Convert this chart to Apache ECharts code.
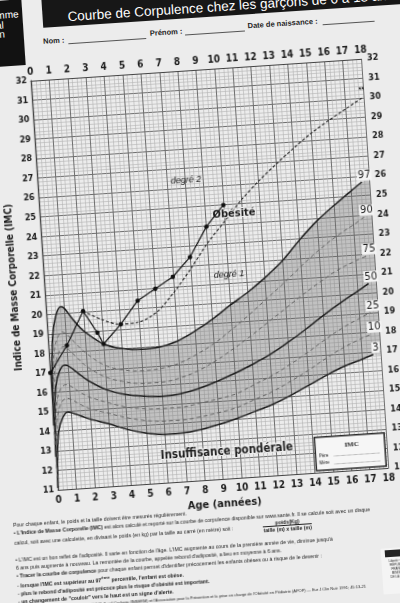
<!DOCTYPE html>
<html>
<head>
<meta charset="utf-8">
<script src="https://cdn.jsdelivr.net/npm/echarts@6/dist/echarts.min.js"></script>
<style>
  html, body { margin: 0; padding: 0; width: 400px; height: 603px; overflow: hidden; background: #ececec; }
  #sheet {
    position: absolute; left: 0; top: 0; width: 400px; height: 603px;
    transform-origin: 200px 275px; transform: rotate(-3.8deg);
    font-family: 'Liberation Sans', Arial, sans-serif; color: #1e1e1e;
  }
  #chart { position: absolute; left: 0; top: 0; width: 400px; height: 603px; }
  .logo { position: absolute; left: -60px; top: -12px; width: 100px; height: 66px; background: #121212; }
  .logo div { position: absolute; left: 44px; color: #fff; font-size: 10px; line-height: 10px; }
  .titlebar { position: absolute; left: 60px; top: -18px; width: 380px; height: 36px; background: #171717; }
  .titlebar span { position: absolute; left: 25px; top: 19px; color: #fff; font-size: 13.5px; line-height: 15px; white-space: nowrap; }
  .form { position: absolute; font-size: 7.5px; font-weight: bold; white-space: nowrap; }
  .rule { position: absolute; height: 0; border-top: 0.8px solid #555; }
  .notes { position: absolute; left: -3px; top: 508px; width: 410px; font-size: 5.2px; line-height: 8px; white-space: nowrap; }
  .notes .gap { margin-top: 6px; }
  .frac { display: inline-block; vertical-align: middle; text-align: center; font-weight: bold; margin-left: 30px; line-height: 6px; }
  .frac span { display: block; }
  .frac span + span { border-top: 0.6px solid #222; }
  .credit { font-size: 4px; }
  .seal { position: absolute; left: 362px; top: 560px; width: 36px; height: 46px; background: #f4f4f4; font-size: 3px; line-height: 4px; text-align: center; }
  .seal .mark { height: 7px; margin: 2px 4px; background: #222; }
</style>
</head>
<body>
<div id="sheet">
  <div class="logo">
    <div style="top:10px">Programme</div>
    <div style="top:19.5px">National</div>
    <div style="top:29px">Nutrition</div>
  </div>
  <div class="titlebar"><span>Courbe de Corpulence chez les garçons de 0 à 18 ans</span></div>

  <div class="form" style="left:59px; top:27px">Nom :</div>
  <div class="rule" style="left:84px; top:35px; width:78px"></div>
  <div class="form" style="left:166px; top:26px">Prénom :</div>
  <div class="rule" style="left:201px; top:34px; width:60px"></div>
  <div class="form" style="left:264px; top:25px">Date de naissance :</div>
  <div class="rule" style="left:339px; top:33px; width:52px"></div>

  <div id="chart"></div>

  <div class="notes">
    <div>Pour chaque enfant, le poids et la taille doivent être mesurés régulièrement.</div>
    <div>• <b>L'Indice de Masse Corporelle (IMC)</b> est alors calculé et reporté sur la courbe de corpulence disponible sur www.sante.fr. Il se calcule soit avec un disque</div>
    <div>calcul, soit avec une calculette, en divisant le poids (en kg) par la taille au carré (en mètre) soit :<span class="frac"><span>poids(Kg)</span><span>taille (m) x taille (m)</span></span></div>
    <div class="gap">• L'IMC est un bon reflet de l'adiposité. Il varie en fonction de l'âge. L'IMC augmente au cours de la première année de vie, diminue jusqu'à</div>
    <div>6 ans puis augmente à nouveau. La remontée de la courbe, appelée rebond d'adiposité, a lieu en moyenne à 6 ans.</div>
    <div>• <b>Tracer la courbe de corpulence</b> pour chaque enfant permet d'identifier précocement les enfants obèses ou à risque de le devenir :</div>
    <div><b>- lorsque l'IMC est supérieur au 97<sup>ème</sup> percentile, l'enfant est obèse.</b></div>
    <div><b>- plus le rebond d'adiposité est précoce plus le risque d'obésité est important.</b></div>
    <div><b>- un changement de "couloir" vers le haut est un signe d'alerte.</b></div>
    <div class="credit">Courbes réalisées en collaboration avec M.F Rolland-Cachera (INSERM) et l'Association pour la Prévention et la prise en charge de l'Obésité en Pédiatrie (APOP) — Eur J Clin Nutr 1991; 45:13-21</div>
  </div>
  <div class="seal"><div class="mark"></div>Liberté • Égalité<br>RÉPUBLIQUE<br>FRANÇAISE<br>MINISTÈRE<br>DE LA SANTÉ</div>
</div>

<script>
// percentile curves (age in years -> IMC)
const ages = [0, 0.1, 0.25, 0.5, 0.8, 1, 1.5, 2, 3, 4, 5, 6, 7, 8, 9, 10, 11, 12, 13, 14, 15, 16, 17, 17.6]
const p3  = [11.1, 12.8, 14.0, 14.65, 14.95, 14.9, 14.7, 14.5, 14.2, 13.85, 13.6, 13.47, 13.48, 13.6, 13.8, 14.05, 14.35, 14.65, 15.05, 15.5, 15.95, 16.35, 16.65, 16.85]
const p10 = [11.6, 13.5, 14.8, 15.45, 15.65, 15.6, 15.3, 15.05, 14.75, 14.45, 14.25, 14.15, 14.15, 14.25, 14.4, 14.6, 14.95, 15.3, 15.75, 16.25, 16.8, 17.3, 17.7, 17.9]
const p25 = [12.1, 14.2, 15.5, 16.15, 16.35, 16.3, 15.95, 15.65, 15.3, 15.0, 14.85, 14.8, 14.8, 14.95, 15.1, 15.3, 15.7, 16.1, 16.6, 17.15, 17.75, 18.3, 18.75, 19.0]
const p50 = [12.7, 14.9, 16.3, 17.05, 17.35, 17.3, 16.9, 16.5, 15.95, 15.65, 15.5, 15.43, 15.5, 15.7, 16.0, 16.35, 16.75, 17.2, 17.75, 18.35, 19.0, 19.6, 20.15, 20.5]
const p75 = [13.3, 15.6, 17.1, 17.95, 18.3, 18.2, 17.7, 17.2, 16.6, 16.3, 16.15, 16.15, 16.3, 16.6, 17.05, 17.6, 18.2, 18.85, 19.5, 20.15, 20.75, 21.3, 21.7, 21.9]
const p90 = [13.8, 16.3, 17.9, 18.75, 19.05, 18.95, 18.4, 17.9, 17.2, 16.9, 16.8, 16.85, 17.05, 17.45, 17.95, 18.6, 19.3, 20.05, 20.8, 21.6, 22.35, 23.0, 23.55, 23.9]
const p97 = [14.3, 17.0, 18.8, 19.9, 20.35, 20.25, 19.55, 19.0, 18.3, 18.0, 17.9, 17.95, 18.2, 18.65, 19.2, 19.85, 20.45, 21.15, 21.95, 22.95, 23.85, 24.6, 25.3, 25.7]

// obesity threshold (dashed, degré 1 / degré 2)
const seuilAges = [2, 3, 4, 5, 6, 7, 8, 9, 10, 11, 12, 13, 14, 15, 16, 17, 18]
const seuilImc  = [20.05, 19.55, 19.25, 19.3, 19.75, 20.7, 21.85, 23.1, 24.15, 25.2, 26.1, 26.9, 27.65, 28.35, 28.95, 29.5, 30.05]

// child's plotted measurements
const enfantAges = [0, 1, 2, 2.7, 3, 4, 5, 6, 7, 8, 9, 10]
const enfantImc  = [17.0, 18.35, 20.05, 18.9, 18.3, 19.25, 20.4, 20.95, 21.5, 22.45, 23.95, 25.0]

const narrow = "'Liberation Sans Narrow', 'DejaVu Sans Condensed', sans-serif"
const ink = '#1c1c1c'

// texts written on the grid
const annotations = [
  { text: 'degré 2', at: [8.06, 26.4], style: { fontStyle: 'italic', fontSize: 9 } },
  { text: 'Obésité', at: [10.55, 24.5], style: { fontWeight: 'bold', fontSize: 11, fontFamily: narrow, textBorderColor: '#efefef', textBorderWidth: 2 } },
  { text: 'degré 1', at: [10.06, 21.42], style: { fontStyle: 'italic', fontSize: 9 } },
  { text: 'Insuffisance pondérale', at: [9.3, 12.4], style: { fontWeight: 'bold', fontSize: 11.5, fontFamily: narrow, textBorderColor: '#efefef', textBorderWidth: 2 } },
  { text: 'IMC', at: [16.1, 12.3], style: { fontWeight: 'bold', fontSize: 7, fontFamily: 'Liberation Serif' } },
  { text: 'Père', at: [14.55, 11.85], style: { fontSize: 4.5 } },
  { text: 'Mère', at: [14.55, 11.45], style: { fontSize: 4.5 } },
  { text: '**', at: [17.9, 30.4], style: { fontWeight: 'bold', fontSize: 7 } }
]

const chart = echarts.init(document.getElementById('chart'))

function pairs(xs, ys) {
  return xs.map(function (x, i) { return [x, ys[i]] })
}

function percentile(name, values, dashed) {
  return {
    name: name, type: 'line', data: pairs(ages, values),
    showSymbol: false, smooth: 0.35, z: 3, silent: true,
    lineStyle: dashed
      ? { color: '#5c5c5c', width: 0.9, type: [4, 3] }
      : { color: ink, width: 1.5 },
    markPoint: {
      symbol: 'circle', symbolSize: 1, silent: true,
      itemStyle: { color: 'rgba(0,0,0,0)' },
      label: {
        show: true, position: 'inside', formatter: name,
        fontSize: 11, fontFamily: narrow, color: ink,
        backgroundColor: '#f4f4f4', padding: [0, 1]
      },
      data: [{ coord: [17.75, values[values.length - 1] + 0.35] }]
    }
  }
}

// grey band between 3rd and 97th, carried flat to 18 ans
const bandAges = ages.concat([18])
const bandLow = p3.concat([p3[p3.length - 1]])
const bandHigh = p97.concat([p97[p97.length - 1]])

function renderBand(params, api) {
  const top = bandAges.map(function (a, i) { return api.coord([a, bandHigh[i]]) })
  const bottom = bandAges.map(function (a, i) { return api.coord([a, bandLow[i]]) }).reverse()
  return {
    type: 'polygon',
    shape: { points: top.concat(bottom), smooth: 0.3 },
    style: { fill: 'rgba(105,105,105,0.33)', stroke: 'none' }
  }
}

const axisText = { color: ink, fontFamily: narrow, fontWeight: 'bold' }

chart.setOption({
  animation: false,
  grid: { left: 25, right: 25, top: 70, bottom: 123 },
  xAxis: [
    {
      type: 'value', min: 0, max: 18, interval: 1, position: 'bottom',
      name: 'Age (années)', nameLocation: 'middle', nameGap: 17,
      nameTextStyle: { color: ink, fontWeight: 'bold', fontSize: 11, fontFamily: narrow },
      axisLine: { show: true, lineStyle: { color: '#444', width: 1.2 } },
      axisTick: { show: false },
      axisLabel: Object.assign({ fontSize: 10, margin: 5 }, axisText),
      splitLine: { show: true, lineStyle: { color: '#6e6e6e', width: 1 } },
      minorTick: { show: false, splitNumber: 4 },
      minorSplitLine: { show: true, lineStyle: { color: '#b2b2b2', width: 0.6 } }
    },
    {
      type: 'value', min: 0, max: 18, interval: 1, position: 'top',
      axisLine: { show: true, lineStyle: { color: '#444', width: 1.2 } },
      axisTick: { show: false },
      axisLabel: Object.assign({ fontSize: 10, margin: 4 }, axisText),
      splitLine: { show: false }
    }
  ],
  yAxis: [
    {
      type: 'value', min: 11, max: 32, interval: 1, position: 'left',
      name: 'Indice de Masse Corporelle (IMC)', nameLocation: 'middle', nameGap: 16, nameRotate: 90,
      nameTextStyle: { color: ink, fontWeight: 'bold', fontSize: 10, fontFamily: narrow },
      axisLine: { show: true, lineStyle: { color: '#444', width: 1.2 } },
      axisTick: { show: false },
      axisLabel: Object.assign({ fontSize: 9, margin: 4 }, axisText),
      splitLine: { show: true, lineStyle: { color: '#6e6e6e', width: 1 } },
      minorTick: { show: false, splitNumber: 5 },
      minorSplitLine: { show: true, lineStyle: { color: '#b2b2b2', width: 0.6 } }
    },
    {
      type: 'value', min: 11, max: 32, interval: 1, position: 'right',
      axisLine: { show: true, lineStyle: { color: '#444', width: 1.2 } },
      axisTick: { show: false },
      axisLabel: Object.assign({ fontSize: 9, margin: 6 }, axisText),
      splitLine: { show: false }
    }
  ],
  series: [
    {
      name: 'bande', type: 'custom', silent: true, z: 1, clip: true,
      data: [[0, 11]],
      renderItem: renderBand
    },
    percentile('3', p3, false),
    percentile('10', p10, true),
    percentile('25', p25, true),
    percentile('50', p50, false),
    percentile('75', p75, true),
    percentile('90', p90, true),
    percentile('97', p97, false),
    {
      name: 'seuil', type: 'line', data: pairs(seuilAges, seuilImc),
      showSymbol: false, smooth: 0.3, z: 4, silent: true,
      lineStyle: { color: '#222', width: 1.1, type: [3, 2] },
      markArea: {
        silent: true,
        itemStyle: { color: '#f6f6f6', borderColor: '#2a2a2a', borderWidth: 1.5 },
        data: [[{ coord: [14.1, 12.8] }, { coord: [17.9, 11.1] }]]
      },
      markLine: {
        silent: true, symbol: 'none', label: { show: false },
        lineStyle: { color: '#555', width: 0.6, type: 'dotted' },
        data: [
          [{ coord: [15.1, 11.8] }, { coord: [17.6, 11.8] }],
          [{ coord: [15.1, 11.4] }, { coord: [17.6, 11.4] }]
        ]
      },
      markPoint: {
        symbol: 'circle', symbolSize: 1, silent: true,
        itemStyle: { color: 'rgba(0,0,0,0)' },
        data: annotations.map(function (n) {
          return {
            coord: n.at,
            label: Object.assign({ show: true, position: 'inside', formatter: n.text, color: ink, fontFamily: 'Liberation Sans' }, n.style)
          }
        })
      }
    },
    {
      name: 'enfant', type: 'line', data: pairs(enfantAges, enfantImc),
      z: 5, silent: true,
      symbol: 'circle', symbolSize: 4.5,
      itemStyle: { color: '#111' },
      lineStyle: { color: '#111', width: 1.2 }
    }
  ]
})
</script>
</body>
</html>
